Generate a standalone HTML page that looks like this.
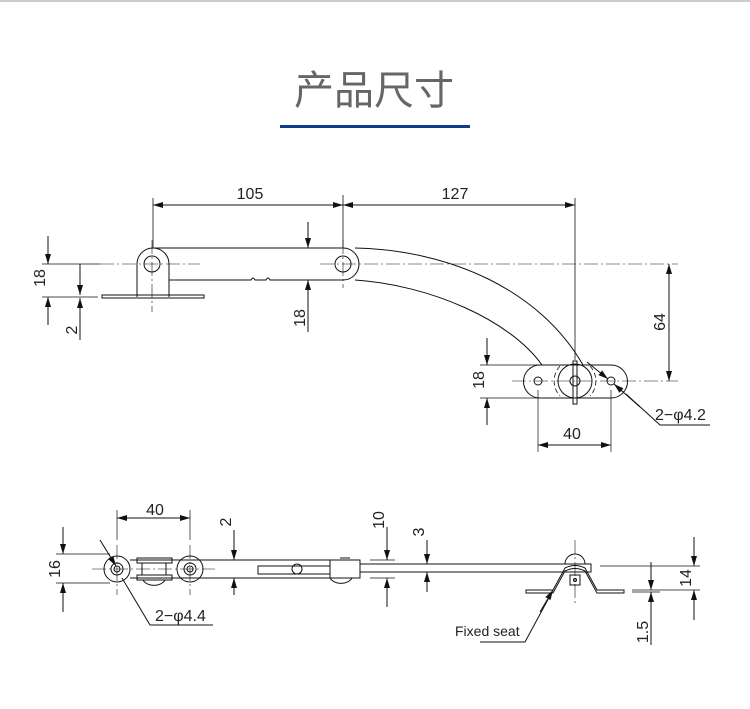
<!DOCTYPE html>
<html><head><meta charset="utf-8"><style>
body{margin:0;background:#fff;width:750px;height:709px;overflow:hidden}
svg{display:block}
text{font-family:"Liberation Sans",Arial,sans-serif;fill:#222}
</style></head><body>
<svg width="750" height="709" viewBox="0 0 750 709" xmlns="http://www.w3.org/2000/svg">
<defs>
<marker id="a" viewBox="0 0 10 6" refX="10" refY="3" markerWidth="10" markerHeight="6" orient="auto-start-reverse" markerUnits="userSpaceOnUse"><path d="M0,0L10,3L0,6z" fill="#111"/></marker>
</defs>
<line x1="0" y1="1" x2="750" y2="1" stroke="#ccc" stroke-width="2"/>
<text x="374" y="104" text-anchor="middle" font-size="40" style="font-family:'Liberation Sans','Noto Sans CJK SC',sans-serif;fill:#666">产品尺寸</text>
<rect x="280" y="125" width="190" height="3" fill="#0d3d8a"/>

<g stroke="#111" stroke-width="1" fill="none">
<line x1="153" y1="205" x2="343" y2="205" marker-start="url(#a)" marker-end="url(#a)"/>
<line x1="343" y1="205" x2="575" y2="205" marker-start="url(#a)" marker-end="url(#a)"/>
<line x1="153" y1="198" x2="153" y2="248" stroke-width="0.8"/>
<line x1="343" y1="195" x2="343" y2="248" stroke-width="0.8"/>
<line x1="575" y1="198" x2="575" y2="360" stroke-width="0.8"/>
<path d="M137,297 V264 A16,16 0 0 1 169,264 V297"/>
<circle cx="152" cy="264" r="8"/>
<path d="M102,295 H204 V298 H102 Z"/>
<path d="M152,248 H343"/>
<path d="M169,280 H251 q2,-4 4,0 H266 q2,-4 4,0 H343"/>
<path d="M343,248 A16,16 0 0 1 343,280"/>
<circle cx="343" cy="264" r="8"/>
<path d="M355,248 C450,250 540,290 583,365"/>
<path d="M355,280 C430,285 510,320 542,365"/>
<path d="M540,365 H611 A16.5,16.5 0 0 1 611,398 H540 A16.5,16.5 0 0 1 540,365 Z"/>
<circle cx="538" cy="381" r="4"/>
<circle cx="611" cy="381" r="4"/>
<circle cx="575" cy="381" r="17"/>
<circle cx="575" cy="381" r="5"/>
<path d="M560,366 A22,22 0 0 0 560,396 M590,366 A22,22 0 0 1 590,396" stroke-dasharray="5,3" stroke-width="0.8"/>
<rect x="573" y="361" width="4" height="43"/>
<g stroke-width="0.6" stroke-dasharray="14,3,2,3">
<line x1="100" y1="264" x2="200" y2="264"/>
<line x1="152" y1="240" x2="152" y2="312"/>
<line x1="320" y1="264" x2="678" y2="264"/>
<line x1="343" y1="240" x2="343" y2="288"/>
<line x1="512" y1="381" x2="678" y2="381"/>
</g>
<line x1="42" y1="264" x2="100" y2="264" stroke-width="0.7"/>
<line x1="42" y1="297" x2="98" y2="297" stroke-width="0.7"/>
<line x1="48" y1="236" x2="48" y2="264" marker-end="url(#a)"/>
<line x1="48" y1="325" x2="48" y2="297" marker-end="url(#a)"/>
<line x1="80" y1="264" x2="80" y2="295" marker-end="url(#a)"/>
<line x1="80" y1="340" x2="80" y2="298" marker-end="url(#a)"/>
<line x1="308" y1="222" x2="308" y2="248" marker-end="url(#a)"/>
<line x1="308" y1="332" x2="308" y2="280" marker-end="url(#a)"/>
<line x1="669" y1="264" x2="669" y2="381" marker-start="url(#a)" marker-end="url(#a)"/>
<line x1="480" y1="365" x2="540" y2="365" stroke-width="0.7"/>
<line x1="480" y1="398" x2="540" y2="398" stroke-width="0.7"/>
<line x1="487" y1="338" x2="487" y2="365" marker-end="url(#a)"/>
<line x1="487" y1="425" x2="487" y2="398" marker-end="url(#a)"/>
<line x1="538" y1="390" x2="538" y2="452" stroke-width="0.7"/>
<line x1="611" y1="390" x2="611" y2="452" stroke-width="0.7"/>
<line x1="538" y1="445" x2="611" y2="445" marker-start="url(#a)" marker-end="url(#a)"/>
<line x1="587" y1="362" x2="608" y2="379" marker-end="url(#a)"/>
<path d="M626,394 L660,425 H710"/>
<line x1="640" y1="407" x2="614" y2="384" marker-end="url(#a)"/>

<line x1="117" y1="518" x2="190" y2="518" marker-start="url(#a)" marker-end="url(#a)"/>
<line x1="117" y1="510" x2="117" y2="540" stroke-width="0.7"/>
<line x1="190" y1="510" x2="190" y2="540" stroke-width="0.7"/>
<line x1="56" y1="554" x2="110" y2="554" stroke-width="0.7"/>
<line x1="56" y1="583" x2="110" y2="583" stroke-width="0.7"/>
<line x1="63" y1="527" x2="63" y2="554" marker-end="url(#a)"/>
<line x1="63" y1="612" x2="63" y2="583" marker-end="url(#a)"/>
<circle cx="117" cy="569" r="13"/>
<circle cx="117" cy="569" r="6"/><circle cx="117" cy="569" r="3"/>
<circle cx="190" cy="569" r="13"/>
<circle cx="190" cy="569" r="6"/><circle cx="190" cy="569" r="3"/>
<path d="M130,560 H232 M130,578 H232"/>
<path d="M137,558 H172 V563 H137 Z M137,575 H172 V580 H137 Z"/>
<rect x="142" y="563" width="24" height="12"/>
<path d="M143,580 A12,9 0 0 0 165,580"/>
<path d="M232,560 H360 V578 H232"/>
<path d="M258,566 H330 V574 H258 Z"/>
<circle cx="297" cy="569" r="5"/>
<path d="M330,560 V578 M340,558 H350 M330,578 A12,9 0 0 0 352,578"/>
<path d="M360,564 H577 M360,572 H577"/>
<g stroke-width="0.6" stroke-dasharray="14,3,2,3">
<line x1="92" y1="569" x2="215" y2="569"/>
<line x1="117" y1="545" x2="117" y2="595"/>
<line x1="190" y1="545" x2="190" y2="595"/>
<line x1="575" y1="540" x2="575" y2="605"/>
</g>
<line x1="234" y1="530" x2="234" y2="560" marker-end="url(#a)"/>
<line x1="234" y1="595" x2="234" y2="578" marker-end="url(#a)"/>
<line x1="370" y1="560" x2="395" y2="560" stroke-width="0.7"/>
<line x1="370" y1="578" x2="395" y2="578" stroke-width="0.7"/>
<line x1="387" y1="527" x2="387" y2="560" marker-end="url(#a)"/>
<line x1="387" y1="607" x2="387" y2="578" marker-end="url(#a)"/>
<line x1="420" y1="564" x2="432" y2="564" stroke-width="0.7"/>
<line x1="420" y1="572" x2="432" y2="572" stroke-width="0.7"/>
<line x1="427" y1="540" x2="427" y2="564" marker-end="url(#a)"/>
<line x1="427" y1="592" x2="427" y2="572" marker-end="url(#a)"/>
<line x1="100" y1="540" x2="116" y2="566" marker-end="url(#a)"/>
<path d="M122,578 L150,625 H213"/>
<path d="M565,564 A10,10 0 0 1 585,564"/>
<path d="M577,564 H591 V572 H577"/>
<path d="M526,590 H553 L565,568 Q575,563 585,568 L597,590 H624 V593 H597 L585,571 Q575,566 565,571 L553,593 H526 Z"/>
<rect x="570" y="575" width="10" height="10"/>
<circle cx="575" cy="580" r="1.5"/>
<line x1="600" y1="566" x2="700" y2="566" stroke-width="0.7"/>
<line x1="632" y1="590" x2="700" y2="590" stroke-width="0.7"/>
<line x1="632" y1="592" x2="660" y2="592" stroke-width="0.7"/>
<line x1="651" y1="562" x2="651" y2="590" marker-end="url(#a)"/>
<line x1="651" y1="645" x2="651" y2="592" marker-end="url(#a)"/>
<line x1="694" y1="537" x2="694" y2="566" marker-end="url(#a)"/>
<line x1="694" y1="620" x2="694" y2="590" marker-end="url(#a)"/>
<path d="M480,642 H525 L552,592" />
<line x1="540" y1="612" x2="553" y2="590" marker-end="url(#a)"/>
</g>

<g font-size="16">
<text x="250" y="199" text-anchor="middle">105</text>
<text x="455" y="199" text-anchor="middle">127</text>
<text transform="translate(45,278) rotate(-90)" text-anchor="middle">18</text>
<text transform="translate(77,330) rotate(-90)" text-anchor="middle">2</text>
<text transform="translate(305,318) rotate(-90)" text-anchor="middle">18</text>
<text transform="translate(665,322) rotate(-90)" text-anchor="middle">64</text>
<text transform="translate(484,380) rotate(-90)" text-anchor="middle">18</text>
<text x="572" y="439" text-anchor="middle">40</text>
<text x="655" y="420">2−φ4.2</text>
<text x="155" y="515" text-anchor="middle">40</text>
<text transform="translate(60,569) rotate(-90)" text-anchor="middle">16</text>
<text transform="translate(231,522) rotate(-90)" text-anchor="middle">2</text>
<text transform="translate(384,520) rotate(-90)" text-anchor="middle">10</text>
<text transform="translate(424,532) rotate(-90)" text-anchor="middle">3</text>
<text x="155" y="621">2−φ4.4</text>
<text transform="translate(648,632) rotate(-90)" text-anchor="middle">1.5</text>
<text transform="translate(691,578) rotate(-90)" text-anchor="middle">14</text>
<text x="455" y="636" font-size="14">Fixed seat</text>
</g>
</svg>
</body></html>
